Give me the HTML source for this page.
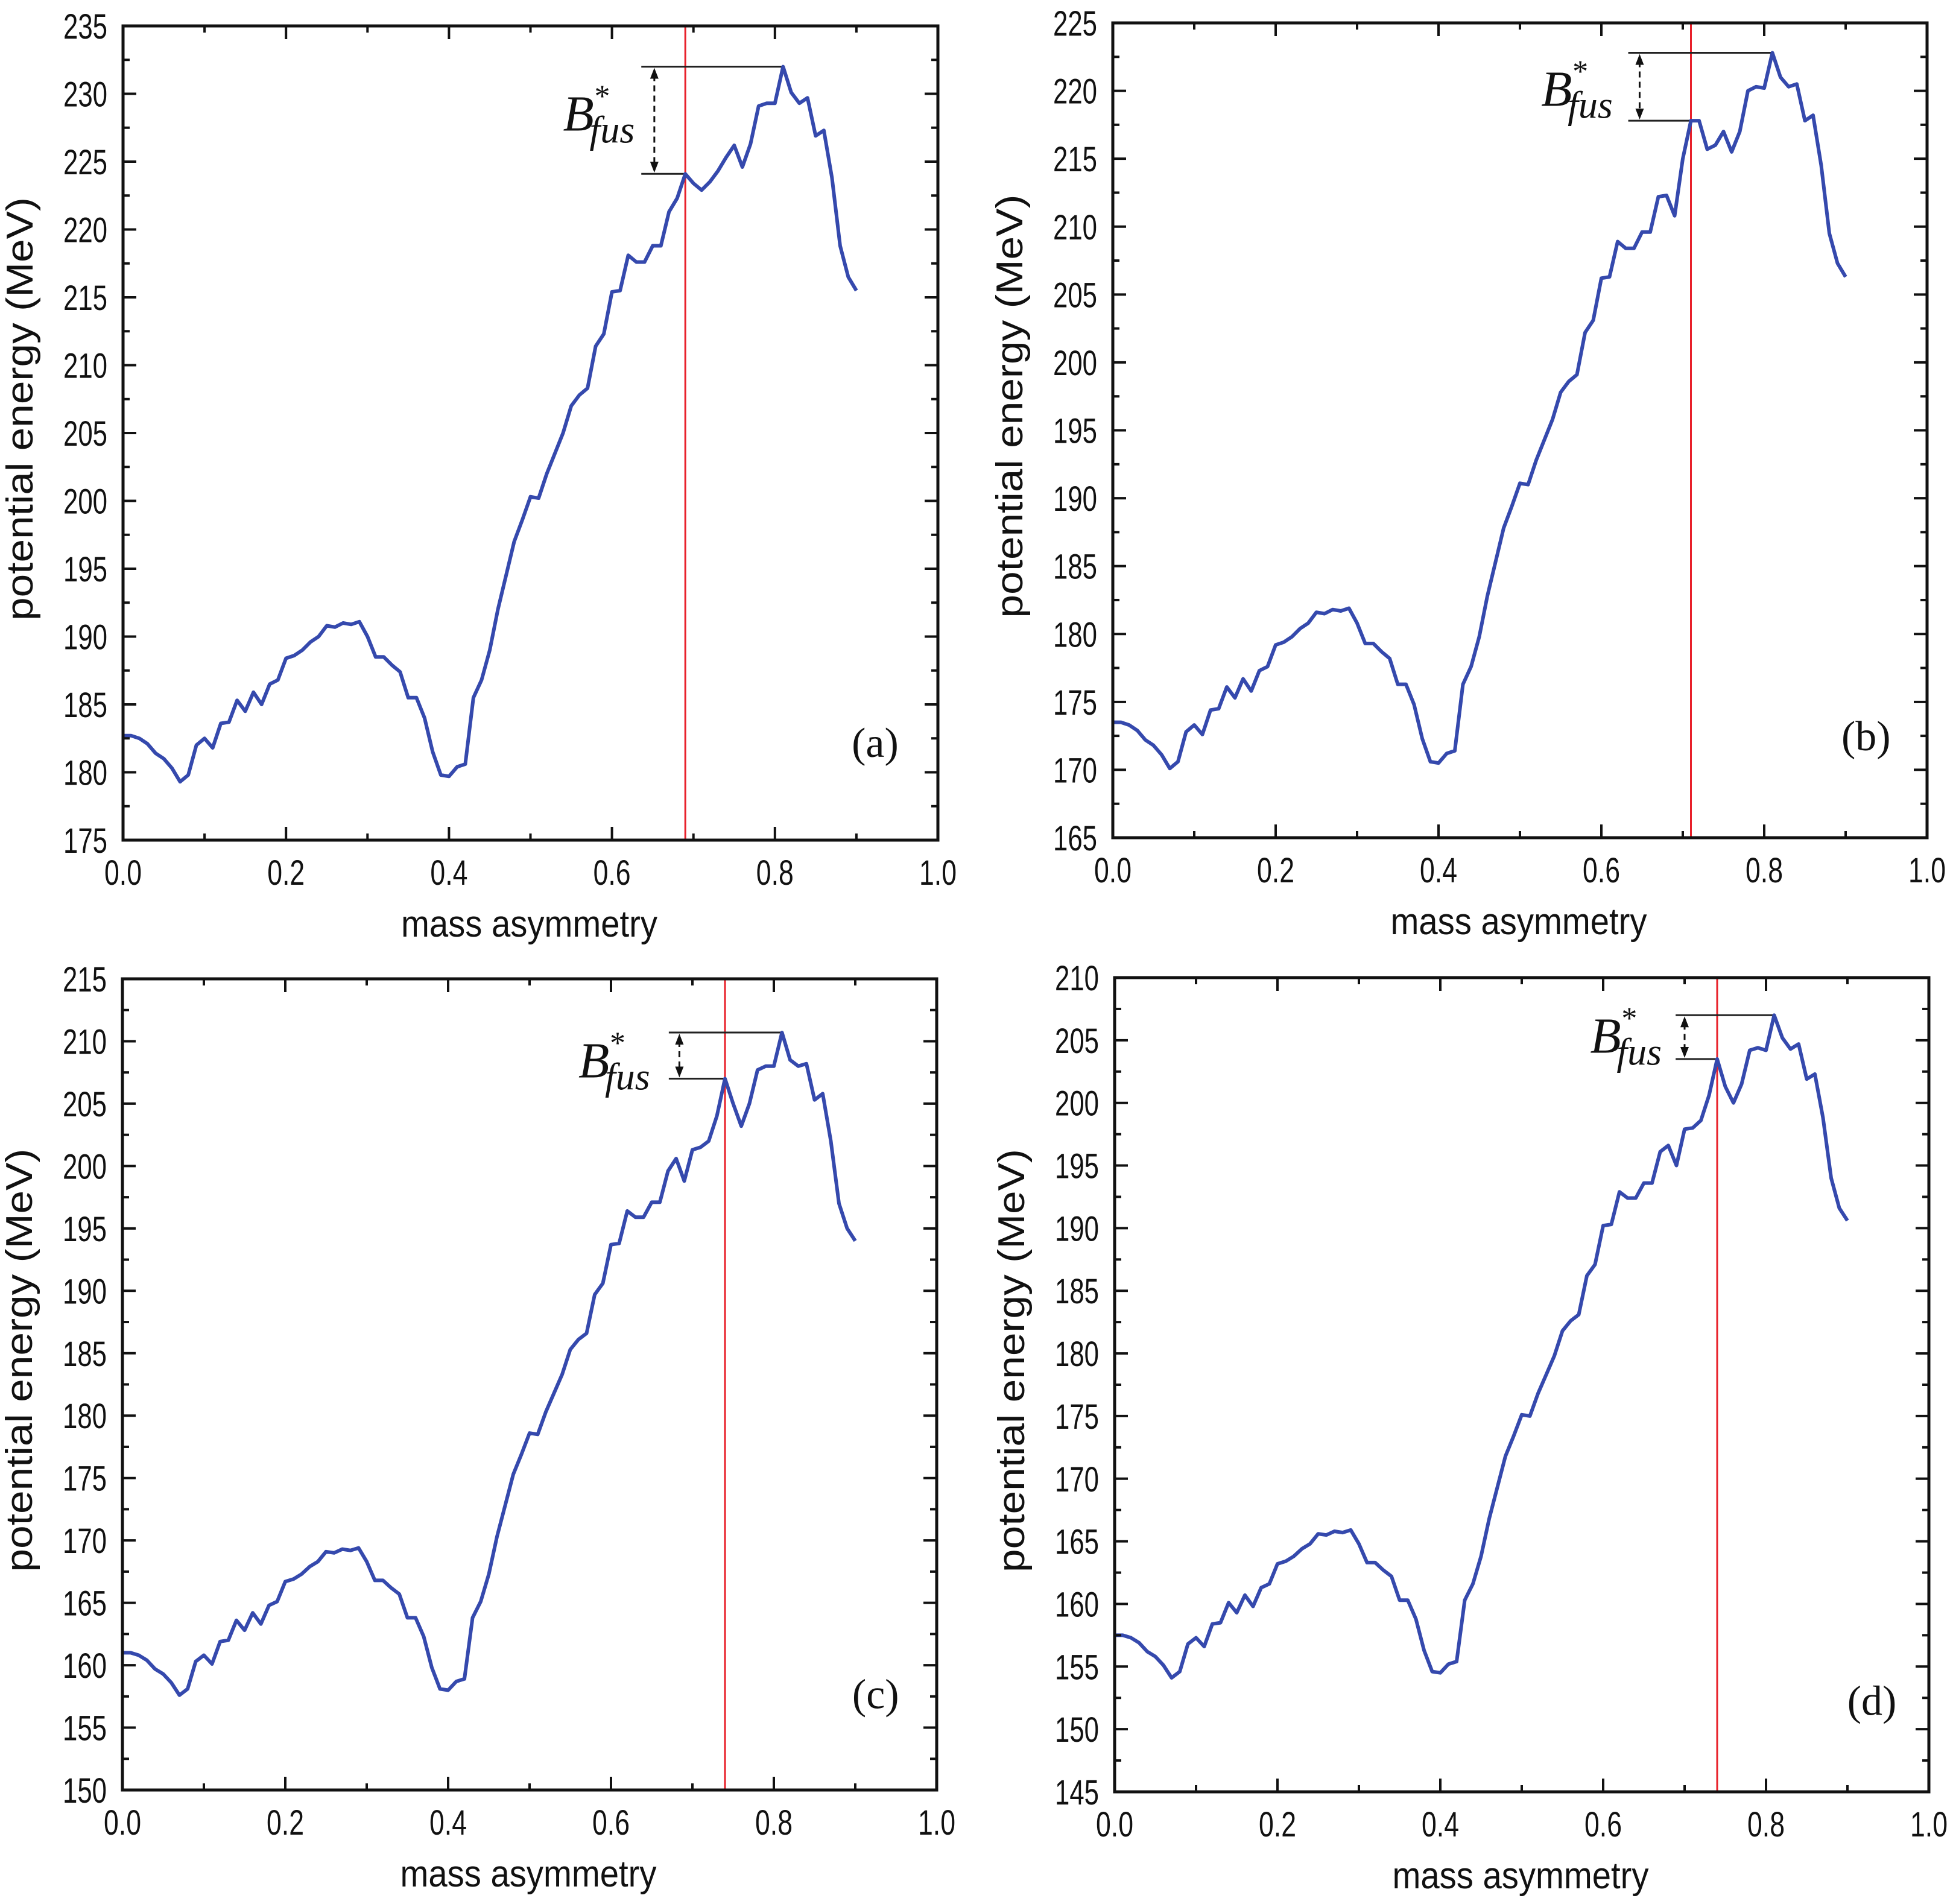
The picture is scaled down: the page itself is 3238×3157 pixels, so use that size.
<!DOCTYPE html>
<html><head><meta charset="utf-8">
<style>
html,body{margin:0;padding:0;background:#fff;}
svg{display:block;}
text{font-family:"Liberation Sans",Arial,sans-serif;fill:#111;}
.serif{font-family:"Liberation Serif","DejaVu Serif",serif;}
</style></head>
<body>
<svg id="s" xmlns="http://www.w3.org/2000/svg" width="3238" height="3157" viewBox="0 0 3238 3157"></svg>
<script>
const S=document.getElementById('s');
const NS='http://www.w3.org/2000/svg';
function el(t,a,txt){const e=document.createElementNS(NS,t);for(const k in a)e.setAttribute(k,a[k]);if(txt!==undefined)e.textContent=txt;S.appendChild(e);return e;}
const A=[[0,182.7],[0.01,182.7],[0.02,182.5],[0.03,182.1],[0.04,181.4],[0.05,181],[0.06,180.3],[0.07,179.3],[0.08,179.8],[0.09,182],[0.10,182.5],[0.11,181.8],[0.12,183.6],[0.13,183.7],[0.14,185.3],[0.15,184.5],[0.16,185.9],[0.17,185],[0.18,186.5],[0.19,186.8],[0.20,188.4],[0.21,188.6],[0.22,189],[0.23,189.6],[0.24,190],[0.25,190.8],[0.26,190.7],[0.27,191],[0.28,190.9],[0.29,191.1],[0.30,190],[0.31,188.5],[0.32,188.5],[0.33,187.9],[0.34,187.4],[0.35,185.5],[0.36,185.5],[0.37,184],[0.38,181.5],[0.39,179.8],[0.40,179.7],[0.41,180.4],[0.42,180.6],[0.43,185.5],[0.44,186.8],[0.45,189],[0.46,192],[0.47,194.5],[0.48,197],[0.49,198.6],[0.50,200.3],[0.51,200.2],[0.52,202],[0.53,203.5],[0.54,205],[0.55,207],[0.56,207.8],[0.57,208.3],[0.58,211.4],[0.59,212.3],[0.60,215.4],[0.61,215.5],[0.62,218.1],[0.63,217.6],[0.64,217.6],[0.65,218.8],[0.66,218.8],[0.67,221.3],[0.68,222.3],[0.69,224.1],[0.70,223.4],[0.71,222.9],[0.72,223.5],[0.73,224.3],[0.74,225.3],[0.75,226.2],[0.76,224.6],[0.77,226.3],[0.78,229.1],[0.79,229.3],[0.80,229.3],[0.81,232.0],[0.82,230.1],[0.83,229.3],[0.84,229.7],[0.85,226.9],[0.86,227.3],[0.87,223.8],[0.88,218.8],[0.89,216.5],[0.90,215.5]];
function mk(off,cut,tail){const r=[];for(const p of A){if(p[0]<=cut+1e-9)r.push([p[0],p[1]+off]);}return r.concat(tail);}
const B=mk(-9.2,0.66,[[0.67,212.2],[0.68,212.3],[0.69,210.8],[0.70,215],[0.71,217.8],[0.72,217.8],[0.73,215.7],[0.74,216],[0.75,217],[0.76,215.5],[0.77,217],[0.78,220],[0.79,220.3],[0.80,220.2],[0.81,222.8],[0.82,221],[0.83,220.3],[0.84,220.5],[0.85,217.8],[0.86,218.2],[0.87,214.5],[0.88,209.5],[0.89,207.3],[0.90,206.3]]);
const C=mk(-21.7,0.68,[[0.69,198.8],[0.70,201.3],[0.71,201.5],[0.72,202],[0.73,204],[0.74,207],[0.75,205],[0.76,203.2],[0.77,205],[0.78,207.7],[0.79,208],[0.80,208],[0.81,210.7],[0.82,208.5],[0.83,208],[0.84,208.2],[0.85,205.3],[0.86,205.8],[0.87,202],[0.88,197],[0.89,195],[0.90,194]]);
const D=mk(-25.2,0.67,[[0.68,196.6],[0.69,195],[0.70,197.9],[0.71,198],[0.72,198.6],[0.73,200.6],[0.74,203.5],[0.75,201.3],[0.76,200],[0.77,201.5],[0.78,204.2],[0.79,204.4],[0.80,204.2],[0.81,207],[0.82,205.2],[0.83,204.3],[0.84,204.7],[0.85,201.9],[0.86,202.3],[0.87,198.8],[0.88,194],[0.89,191.6],[0.90,190.6]]);

const panels=[
 {x0:204,x1:1555,y0:43,y1:1393,ymin:175,ymax:235,data:A,red:0.69,ann:{xs:0.636,xa:0.652,top:232.0,bot:224.1,xp:0.81,xr:0.69},lab:{x:0.54,y:227.3},pl:'(a)',plx:0.923,ply:182.2},
 {x0:1845,x1:3195,y0:38,y1:1389,ymin:165,ymax:225,data:B,red:0.71,ann:{xs:0.633,xa:0.647,top:222.8,bot:217.8,xp:0.81,xr:0.71},lab:{x:0.526,y:218.9},pl:'(b)',plx:0.925,ply:172.5},
 {x0:203,x1:1553,y0:1623,y1:2968,ymin:150,ymax:215,data:C,red:0.74,ann:{xs:0.671,xa:0.684,top:210.7,bot:207,xp:0.81,xr:0.74},lab:{x:0.56,y:207.1},pl:'(c)',plx:0.925,ply:157.7},
 {x0:1848,x1:3198,y0:1621,y1:2971,ymin:145,ymax:210,data:D,red:0.74,ann:{xs:0.689,xa:0.70,top:207,bot:203.5,xp:0.81,xr:0.74},lab:{x:0.584,y:204},pl:'(d)',plx:0.93,ply:152.3}
];
for(const P of panels){
 const X=v=>P.x0+(P.x1-P.x0)*v;
 const Y=v=>P.y1-(P.y1-P.y0)*(v-P.ymin)/(P.ymax-P.ymin);
 el('line',{x1:X(P.red),x2:X(P.red),y1:P.y0,y2:P.y1,stroke:'#e8202a','stroke-width':3});
 const a=P.ann;
 el('line',{x1:X(a.xs),x2:X(a.xp),y1:Y(a.top),y2:Y(a.top),stroke:'#222','stroke-width':3});
 el('line',{x1:X(a.xs),x2:X(a.xr),y1:Y(a.bot),y2:Y(a.bot),stroke:'#222','stroke-width':3});
 const ya=Y(a.top),yb=Y(a.bot),xa=X(a.xa);
 el('line',{x1:xa,x2:xa,y1:ya+14,y2:yb-14,stroke:'#111','stroke-width':3,'stroke-dasharray':'10,7'});
 el('polygon',{points:`${xa},${ya+2} ${xa-7},${ya+20} ${xa+7},${ya+20}`,fill:'#111'});
 el('polygon',{points:`${xa},${yb-2} ${xa-7},${yb-20} ${xa+7},${yb-20}`,fill:'#111'});
 const lx=X(P.lab.x),ly=Y(P.lab.y);
 el('text',{x:lx,y:ly,'font-size':84,'font-style':'italic',class:'serif'},'B');
 el('text',{x:lx+52,y:ly-40,'font-size':52,class:'serif'},'*');
 el('text',{x:lx+44,y:ly+20,'font-size':64,'font-style':'italic',class:'serif'},'fus');
 el('polyline',{points:P.data.map(p=>X(p[0]).toFixed(1)+','+Y(p[1]).toFixed(1)).join(' '),fill:'none',stroke:'#3549ad','stroke-width':6,'stroke-linejoin':'round'});
 el('rect',{x:P.x0,y:P.y0,width:P.x1-P.x0,height:P.y1-P.y0,fill:'none',stroke:'#111','stroke-width':5});
 for(let i=0;i<=10;i++){const x=X(i/10),L=i%2==0?22:11;
  el('line',{x1:x,x2:x,y1:P.y1,y2:P.y1-L,stroke:'#111','stroke-width':4});
  el('line',{x1:x,x2:x,y1:P.y0,y2:P.y0+L,stroke:'#111','stroke-width':4});
  if(i%2==0)el('text',{x:x,y:P.y1+74,'font-size':58,'text-anchor':'middle',textLength:62,lengthAdjust:'spacingAndGlyphs'},(i/10).toFixed(1));
 }
 for(let v=P.ymin;v<=P.ymax+0.01;v+=2.5){const y=Y(v),maj=Math.abs(v%5)<0.01,L=maj?22:11;
  el('line',{x1:P.x0,x2:P.x0+L,y1:y,y2:y,stroke:'#111','stroke-width':4});
  el('line',{x1:P.x1,x2:P.x1-L,y1:y,y2:y,stroke:'#111','stroke-width':4});
  if(maj)el('text',{x:P.x0-26,y:y+21,'font-size':58,'text-anchor':'end',textLength:73,lengthAdjust:'spacingAndGlyphs'},String(v));
 }
 const cx=(P.x0+P.x1)/2;
 el('text',{x:cx-2,y:P.y1+160,'font-size':62,'text-anchor':'middle',textLength:425,lengthAdjust:'spacingAndGlyphs'},'mass asymmetry');
 const cy=(P.y0+P.y1)/2-40, tx=P.x0-150;
 el('text',{x:0,y:0,'font-size':62,'text-anchor':'middle',textLength:702,lengthAdjust:'spacingAndGlyphs',transform:`translate(${tx},${cy}) rotate(-90)`},'potential energy (MeV)');
 el('text',{x:X(P.plx),y:Y(P.ply)+24,'font-size':70,'text-anchor':'middle',class:'serif'},P.pl);
}
</script>
</body></html>
